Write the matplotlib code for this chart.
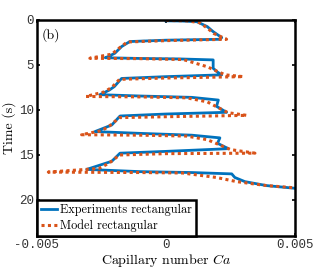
import matplotlib
matplotlib.use("Agg")
import matplotlib.pyplot as plt

# Experiment (Ca in units of 1e-3, time in s)
ca_exp = [0.0, 0.6, 1.2, 1.6, 1.83, 2.16, 2.1,
          0.0, -1.4, -1.72, -1.98, -2.24, -2.35,
          -1.0, 0.5, 1.83, 1.83, 2.0, 2.16,
          0.0, -1.72, -2.0, -2.2, -2.56,
          -1.0, 1.0, 2.03, 1.96, 2.35,
          0.0, -1.78, -2.1, -2.75,
          -1.0, 1.0, 2.09, 2.0, 2.42,
          0.0, -1.78, -2.1, -3.07,
          -1.0, 1.0, 2.55, 2.67, 3.06, 3.9, 5.0]
t_exp = [0.1, 0.12, 0.2, 0.74, 1.3, 1.96, 2.15,
         2.25, 2.4, 2.96, 3.7, 4.07, 4.2,
         4.28, 4.33, 4.44, 5.37, 5.8, 6.1,
         6.3, 6.5, 7.4, 7.8, 8.3,
         8.45, 8.6, 8.9, 9.6, 10.26,
         10.45, 10.67, 11.67, 12.4,
         12.6, 12.8, 13.1, 13.7, 14.3,
         14.6, 14.8, 15.7, 16.6,
         16.85, 16.95, 17.1, 17.5, 17.96, 18.4, 18.7]

# Model
ca_mod = [0.0, 0.8, 1.3, 1.6, 1.85, 2.35,
          0.0, -1.5, -1.8, -2.1, -2.95,
          -1.0, 0.67, 1.6, 1.9, 2.3, 3.0,
          0.0, -1.8, -2.1, -2.4, -3.1,
          -1.0, 0.8, 1.6, 2.0, 2.4, 3.13,
          0.0, -1.8, -2.2, -2.5, -3.27,
          -1.0, 0.8, 1.6, 2.1, 2.5, 3.45,
          0.0, -1.8, -2.2, -2.6, -4.56,
          -1.0, 0.64, 1.96, 2.74, 3.9, 5.0]
t_mod = [0.05, 0.1, 0.3, 0.9, 1.5, 2.15,
         2.3, 2.45, 3.1, 3.8, 4.26,
         4.3, 4.4, 5.2, 5.6, 6.1, 6.3,
         6.45, 6.6, 7.5, 8.0, 8.5,
         8.55, 8.65, 9.1, 9.7, 10.3, 10.6,
         10.75, 10.85, 11.8, 12.3, 12.75,
         12.8, 12.9, 13.3, 13.9, 14.4, 14.8,
         14.85, 15.0, 15.9, 16.5, 16.9,
         16.95, 17.0, 17.5, 17.96, 18.4, 18.65]

xticks = [-0.005, 0, 0.005]
xticklabels = ["-0.005", "0", "0.005"]
yticks = [0, 5, 10, 15, 20]

plt.rcParams['mathtext.fontset'] = 'cm'
serif = ['cmr10', 'DejaVu Serif']
mono = 'Liberation Mono'

fig = plt.figure(figsize=(3.27, 2.73), dpi=100)
ax = fig.add_axes([0.113, 0.1355, 0.789, 0.7915])

ax.plot([c * 1e-3 for c in ca_exp], t_exp, color='#0072BD', lw=2.0,
        label='Experiments rectangular', solid_joinstyle='round')
ax.plot([c * 1e-3 for c in ca_mod], t_mod, color='#D95319', lw=2.2,
        linestyle=(0, (1, 1.1)), label='Model rectangular')

ax.set_xlim(-0.005, 0.005)
ax.set_ylim(24, 0)
ax.set_xticks(xticks)
ax.set_xticklabels(xticklabels, family=mono, fontsize=9, color='#333333')
ax.set_yticks(yticks)
ax.set_yticklabels([str(v) for v in yticks], family=mono, fontsize=9, color='#333333')
ax.tick_params(direction='in', length=2, width=1.2, top=True, right=True, pad=2)

for s in ax.spines.values():
    s.set_linewidth(1.8)

ax.set_xlabel('Capillary number $Ca$', family=serif, fontsize=10, labelpad=1)
ax.set_ylabel('Time (s)', family=serif, fontsize=10, labelpad=2)
ax.text(0.02, 0.96, '(b)', transform=ax.transAxes, family=serif, fontsize=10,
        va='top', ha='left')

leg = ax.legend(loc='lower left', bbox_to_anchor=(0, 0), borderaxespad=0,
                prop={'family': serif, 'size': 8.8}, fancybox=False,
                handlelength=1.3, handletextpad=0.3, borderpad=0.3,
                labelspacing=0.3, framealpha=1)
leg.get_frame().set_edgecolor('black')
leg.get_frame().set_linewidth(1.8)

fig.savefig('out.png', dpi=100)
